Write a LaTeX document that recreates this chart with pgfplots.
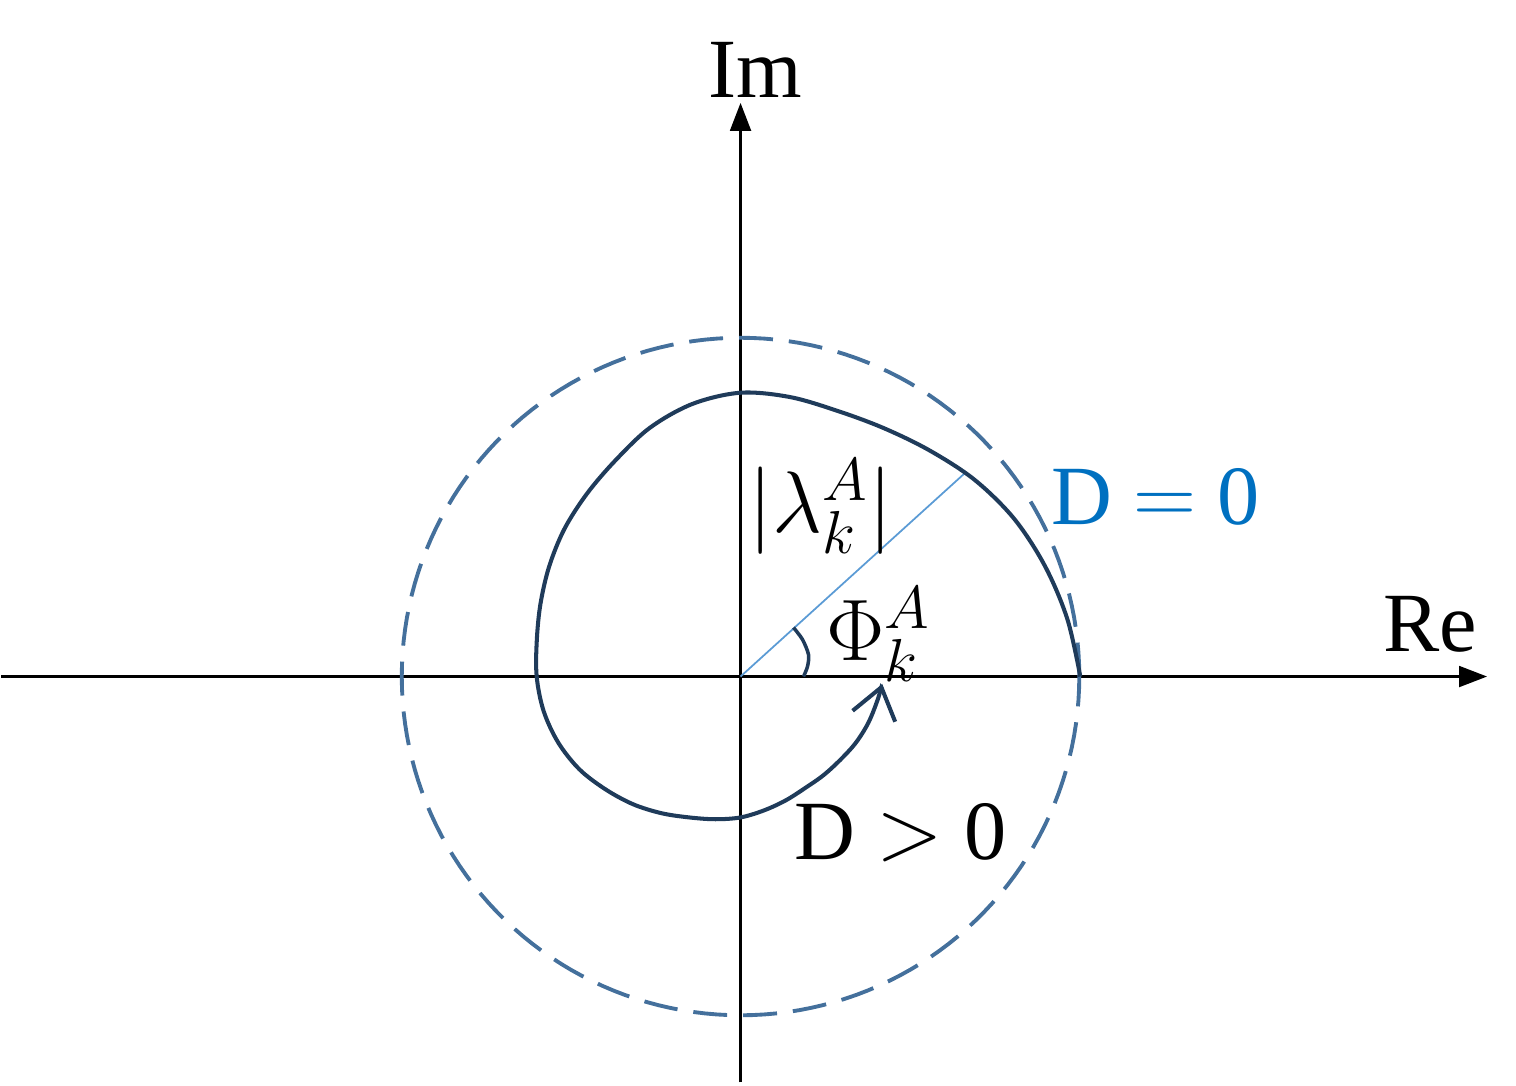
\documentclass[border=0pt]{standalone}
\usepackage{pgfplots}
\pgfplotsset{compat=1.18}
\usepackage{fontspec}
\setmainfont{Liberation Serif}
\usetikzlibrary{arrows.meta}
\definecolor{navy}{HTML}{1F3B5A}
\definecolor{circ}{HTML}{44709C}
\definecolor{radblue}{HTML}{5B9BD5}
\definecolor{dzero}{HTML}{0070C0}
\begin{document}
\begin{tikzpicture}
\begin{axis}[
  scale only axis, width=15.16cm, height=10.86cm,
  xmin=-740, xmax=776, ymin=-409, ymax=677,
  axis lines=none, clip=false,
]
% bounding
\addplot[draw=none, forget plot] coordinates {(-740,-409) (776,677)};
% axes
\addplot[black, line width=0.6pt, -{Triangle[length=2.8mm,width=2.1mm]}] coordinates {(-740,0) (747,0)};
\addplot[black, line width=0.6pt, -{Triangle[length=2.8mm,width=2.1mm]}] coordinates {(0,-406) (0,574)};
% dashed circle
\addplot[circ, line width=1.1pt, dash pattern=on 3.4mm off 1.6mm, domain=0:360, samples=181, data cs=polar] {339};
% radius line
\addplot[radblue, line width=0.5pt] coordinates {(0,0) (225,204)};
% angle arc
\addplot[navy, line width=1.0pt, smooth] coordinates {(53,49) (62,37) (68,22) (67,10) (63,0)};
% spiral
\addplot[navy, line width=1.15pt, smooth, tension=0.55, -{Straight Barb[length=3mm,width=4.4mm,line width=1.15pt]}] coordinates {
(340,0) (327.0,57.6) (304.5,110.8) (273.7,158) (234.4,196.7) (189.6,226.0) (143.5,248.5) (96.8,265.9) (49.3,279.7) (0,284)
(-48.1,272.8) (-90.6,249.0) (-125,216.5) (-153.6,183.1) (-176.2,147.8) (-191.4,110.5) (-200.2,72.8) (-203.9,35.9) (-204,0)
(-197.0,-34.7) (-182.3,-66.3) (-161.1,-93) (-134.8,-113.1) (-107.3,-127.9) (-79,-136.8) (-51.3,-141.0) (-25.2,-142.8) (0,-141)
(23.6,-133.9) (45.1,-124.0) (64.5,-111.7) (82.9,-98.8) (99.6,-83.6) (115.2,-66.5) (127.8,-46.5) (136.9,-24.1) (141.8,-7.4)};
\node[font=\fontsize{24}{24}\selectfont] at (axis cs:15,607) {Im};
\node[font=\fontsize{24}{24}\selectfont] at (axis cs:690,52) {Re};
\node[font=\fontsize{24}{24}\selectfont, text=dzero] at (axis cs:415,180) {D $=$ 0};
\node[font=\fontsize{24}{24}\selectfont] at (axis cs:160,-156) {D $>$ 0};
\node[font=\fontsize{24}{24}\selectfont] at (axis cs:80,170) {$|\lambda_k^A|$};
\node[font=\fontsize{24}{24}\selectfont] at (axis cs:138,42) {$\Phi_k^A$};
\end{axis}
\end{tikzpicture}
\end{document}
